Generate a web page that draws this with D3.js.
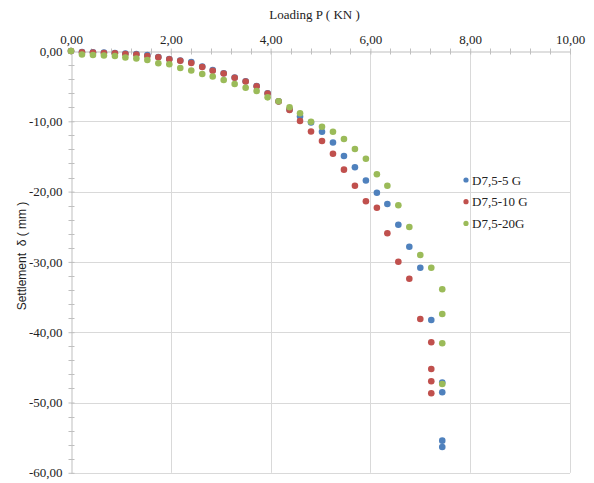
<!DOCTYPE html>
<html>
<head>
<meta charset="utf-8">
<script src="https://cdn.jsdelivr.net/npm/d3@7"></script>
<style>
  html, body { margin: 0; padding: 0; background: #fff; }
  svg { display: block; }
</style>
</head>
<body>
<svg id="chart"></svg>
<script>
// Loading P (kN) vs settlement (mm), three pile series

const seriesNames = ["D7,5-5 G", "D7,5-10 G", "D7,5-20G"];
const seriesColors = ["#4F81BD", "#C0504D", "#9BBB59"];

const loadBlue = [0, 0.22, 0.44, 0.66, 0.88, 1.09, 1.31, 1.53, 1.75, 1.97, 2.19, 2.41, 2.63, 2.84,
  3.06, 3.28, 3.50, 3.72, 3.94, 4.16, 4.38, 4.59, 4.81, 5.03, 5.25, 5.47, 5.69, 5.91, 6.13, 6.34,
  6.56, 6.78, 7.00, 7.22, 7.44, 7.44, 7.44, 7.44];
const settleBlue = [0, -0.14, -0.17, -0.21, -0.28, -0.36, -0.43, -0.57, -0.85, -1.14, -1.35, -1.56, -2.20, -2.70,
  -3.17, -3.77, -4.31, -4.98, -6.02, -7.16, -8.32, -9.32, -10.17, -11.48, -13.02, -14.94, -16.54, -18.42, -20.16, -21.76,
  -24.71, -27.84, -30.83, -38.26, -47.16, -48.55, -55.43, -56.33];

const loadRed = [0, 0.22, 0.44, 0.66, 0.88, 1.09, 1.31, 1.53, 1.75, 1.97, 2.19, 2.41, 2.63, 2.84,
  3.06, 3.28, 3.50, 3.72, 3.94, 4.16, 4.38, 4.59, 4.81, 5.03, 5.25, 5.47, 5.69, 5.91, 6.13, 6.34,
  6.56, 6.78, 7.00, 7.22, 7.22, 7.22, 7.22];
const settleRed = [0, -0.18, -0.21, -0.28, -0.33, -0.43, -0.50, -0.71, -0.90, -1.18, -1.38, -1.71, -2.28, -2.80,
  -3.20, -3.80, -4.34, -5.01, -6.05, -7.18, -8.39, -9.96, -11.45, -12.80, -14.61, -16.88, -19.16, -21.38, -22.29, -25.93,
  -29.97, -32.39, -38.12, -41.44, -45.23, -46.98, -48.69];

const loadGreen = [0, 0.22, 0.44, 0.66, 0.88, 1.09, 1.31, 1.53, 1.75, 1.97, 2.19, 2.41, 2.63, 2.84,
  3.06, 3.28, 3.50, 3.72, 3.94, 4.16, 4.38, 4.59, 4.81, 5.03, 5.25, 5.47, 5.69, 5.91, 6.13, 6.34,
  6.56, 6.78, 7.00, 7.22, 7.44, 7.44, 7.44, 7.44];
const settleGreen = [0, -0.50, -0.57, -0.64, -0.71, -0.92, -1.07, -1.28, -1.75, -1.89, -2.42, -2.77, -3.27, -3.63,
  -4.13, -4.69, -5.22, -5.69, -6.59, -7.15, -8.01, -8.86, -10.06, -10.77, -11.48, -12.52, -13.94, -15.32, -17.54, -19.16,
  -21.95, -25.04, -29.02, -30.83, -33.90, -37.41, -41.58, -47.37];

const xTicks = [0, 2, 4, 6, 8, 10];
const xMinorTicks = [0.4, 0.8, 1.2, 1.6, 2.4, 2.8, 3.2, 3.6, 4.4, 4.8, 5.2, 5.6, 6.4, 6.8, 7.2, 7.6, 8.4, 8.8, 9.2, 9.6];
const yTicks = [0, -10, -20, -30, -40, -50, -60];
const yMinorTicks = [-2, -4, -6, -8, -12, -14, -16, -18, -22, -24, -26, -28, -32, -34, -36, -38,
  -42, -44, -46, -48, -52, -54, -56, -58];

const W = 594, H = 483;
const plot = { left: 71, right: 570, top: 51, bottom: 472.8 };

const svg = d3.select("#chart").attr("width", W).attr("height", H);
svg.append("rect").attr("width", W).attr("height", H).attr("fill", "#fff");

const x = d3.scaleLinear().domain([0, 10]).range([plot.left, plot.right]);
const y = d3.scaleLinear().domain([0, -60]).range([plot.top, plot.bottom]);

const fmt = (d) => (d < 0 ? "-" : "") + Math.abs(d).toFixed(2).replace(".", ",");
const serif = "'Liberation Serif', 'Times New Roman', serif";

// gridlines
const grid = svg.append("g").attr("stroke", "#d9d9d9").attr("stroke-width", 1);
grid.selectAll("line.vx")
  .data(xTicks.slice(1))
  .join("line")
  .attr("x1", (d) => Math.round(x(d)) + 0.5).attr("x2", (d) => Math.round(x(d)) + 0.5)
  .attr("y1", plot.top).attr("y2", plot.bottom);
grid.selectAll("line.hy")
  .data(yTicks.slice(1))
  .join("line")
  .attr("y1", (d) => Math.round(y(d)) + 0.5).attr("y2", (d) => Math.round(y(d)) + 0.5)
  .attr("x1", plot.left).attr("x2", plot.right);

// axes (top x axis, left y axis)
const axisColor = "#bfbfbf";
const xAxis = svg.append("g")
  .attr("transform", `translate(0,${plot.top + 0.5})`)
  .call(d3.axisTop(x).tickValues(xTicks).tickFormat(fmt).tickSizeInner(3).tickSizeOuter(0).tickPadding(5));
xAxis.select(".domain").attr("stroke", axisColor);
xAxis.selectAll(".tick line").attr("stroke", axisColor).attr("y2", -3).attr("y1", 3);
xAxis.selectAll(".tick text").attr("font-family", serif).attr("font-size", 13).attr("fill", "#222");

xAxis.selectAll("line.minor")
  .data(xMinorTicks)
  .join("line")
  .attr("class", "minor")
  .attr("x1", (d) => Math.round(x(d)) + 0.5).attr("x2", (d) => Math.round(x(d)) + 0.5)
  .attr("y1", -3).attr("y2", 3)
  .attr("stroke", axisColor);

const yAxis = svg.append("g")
  .attr("transform", `translate(${plot.left + 0.5},0)`)
  .call(d3.axisLeft(y).tickValues(yTicks).tickFormat(fmt).tickSizeInner(3).tickSizeOuter(0).tickPadding(6));
yAxis.select(".domain").attr("stroke", axisColor);
yAxis.selectAll(".tick line").attr("stroke", axisColor).attr("x1", 3).attr("x2", -3);
yAxis.selectAll(".tick text").attr("font-family", serif).attr("font-size", 13).attr("fill", "#222");

yAxis.selectAll("line.minor")
  .data(yMinorTicks)
  .join("line")
  .attr("class", "minor")
  .attr("y1", (d) => Math.round(y(d)) + 0.5).attr("y2", (d) => Math.round(y(d)) + 0.5)
  .attr("x1", -3).attr("x2", 3)
  .attr("stroke", axisColor);

// axis titles
svg.append("text")
  .attr("x", 314.5).attr("y", 19)
  .attr("text-anchor", "middle")
  .attr("font-family", serif).attr("font-size", 13).attr("fill", "#222")
  .text("Loading P ( KN )");

svg.append("text")
  .attr("transform", "translate(26,256) rotate(-90)")
  .attr("text-anchor", "middle")
  .attr("font-family", "'Liberation Sans', Arial, sans-serif").attr("font-size", 12).attr("fill", "#222")
  .attr("xml:space", "preserve")
  .text("Settlement  δ ( mm )");

// points
const series = [
  { name: seriesNames[0], color: seriesColors[0], load: loadBlue, settle: settleBlue },
  { name: seriesNames[1], color: seriesColors[1], load: loadRed, settle: settleRed },
  { name: seriesNames[2], color: seriesColors[2], load: loadGreen, settle: settleGreen },
];

const gPts = svg.append("g");
series.forEach((s) => {
  gPts.append("g")
    .selectAll("circle")
    .data(s.load.map((p, i) => [p, s.settle[i]]))
    .join("circle")
    .attr("cx", (d) => x(d[0]))
    .attr("cy", (d) => y(d[1]))
    .attr("r", 3.3)
    .attr("fill", s.color);
});

// legend
const legend = svg.append("g").attr("transform", "translate(466,180)");
const rows = legend.selectAll("g")
  .data(series)
  .join("g")
  .attr("transform", (d, i) => `translate(0,${i * 21.7})`);
rows.append("circle").attr("r", 2.6).attr("fill", (d) => d.color);
rows.append("text")
  .attr("x", 6).attr("dy", "0.35em")
  .attr("font-family", serif).attr("font-size", 13).attr("fill", "#222")
  .text((d) => d.name);
</script>
</body>
</html>
